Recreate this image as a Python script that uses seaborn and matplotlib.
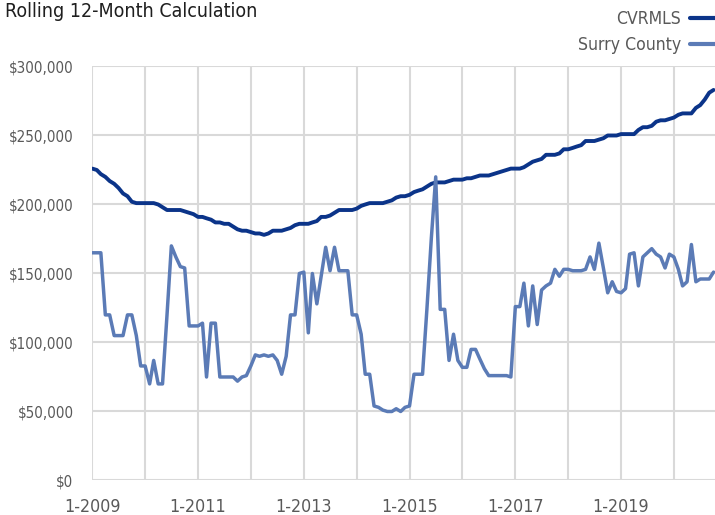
"""
Rolling 12-month median price: CVRMLS vs Surry County
"""

import pandas as pd
import seaborn as sns
import matplotlib.pyplot as plt
import matplotlib.dates as mdates
from matplotlib import font_manager
from matplotlib.lines import Line2D
from matplotlib.ticker import FuncFormatter

# monthly points, 1-2009 .. 10-2020 (values in $1,000)
months = pd.date_range("2009-01-01", periods=142, freq="MS")

cvrmls = [
    226, 225, 222, 220, 217, 215, 212, 208, 206, 202, 201, 201,
    201, 201, 201, 200, 198, 196, 196, 196, 196, 195, 194, 193,
    191, 191, 190, 189, 187, 187, 186, 186, 184, 182, 181, 181,
    180, 179, 179, 178, 179, 181, 181, 181, 182, 183, 185, 186,
    186, 186, 187, 188, 191, 191, 192, 194, 196, 196, 196, 196,
    197, 199, 200, 201, 201, 201, 201, 202, 203, 205, 206, 206,
    207, 209, 210, 211, 213, 215, 216, 216, 216, 217, 218, 218,
    218, 219, 219, 220, 221, 221, 221, 222, 223, 224, 225, 226,
    226, 226, 227, 229, 231, 232, 233, 236, 236, 236, 237, 240,
    240, 241, 242, 243, 246, 246, 246, 247, 248, 250, 250, 250,
    251, 251, 251, 251, 254, 256, 256, 257, 260, 261, 261, 262,
    263, 265, 266, 266, 266, 270, 272, 276, 281, 283,
]

surry = [
    165, 165, 165, 120, 120, 105, 105, 105, 120, 120, 105, 83,
    83, 70, 87, 70, 70, 120, 170, 162, 155, 154, 112, 112,
    112, 114, 75, 114, 114, 75, 75, 75, 75, 72, 75, 76,
    83, 91, 90, 91, 90, 91, 87, 77, 90, 120, 120, 150,
    151, 107, 150, 128, 148, 169, 152, 169, 152, 152, 152, 120,
    120, 106, 77, 77, 54, 53, 51, 50, 50, 52, 50, 53,
    54, 77, 77, 77, 124, 176, 220, 124, 124, 87, 106, 87,
    82, 82, 95, 95, 88, 81, 76, 76, 76, 76, 76, 75,
    126, 126, 143, 112, 141, 113, 138, 141, 143, 153, 148, 153,
    153, 152, 152, 152, 153, 162, 153, 172, 154, 136, 144, 137,
    136, 139, 164, 165, 141, 162, 165, 168, 164, 162, 154, 164,
    162, 153, 141, 144, 171, 144, 146, 146, 146, 151,
]

series_names = ["CVRMLS", "Surry County"]
colors = {"CVRMLS": "#0B3489", "Surry County": "#5B7BB6"}
widths = {"CVRMLS": 2.8, "Surry County": 2.5}


def pick_narrow_font():
    # the original uses a condensed sans; take one if the system has it
    for f in font_manager.fontManager.ttflist:
        fn = f.fname.lower()
        if ("narrow" in fn or "condensed" in fn) and not any(
            k in fn for k in ("bold", "oblique", "italic")
        ):
            return f
    return None


def plot_chart():
    df = pd.DataFrame({
        "Month": list(months) * 2,
        "Price": [v * 1000 for v in cvrmls + surry],
        "Series": ["CVRMLS"] * len(cvrmls) + ["Surry County"] * len(surry),
    })

    sns.set_style("white")
    narrow = pick_narrow_font()
    if narrow is not None:
        plt.rcParams["font.family"] = [narrow.name, "Liberation Sans", "DejaVu Sans"]
        plt.rcParams["font.stretch"] = narrow.stretch
        sz = {"title": 14, "ytick": 10.9, "xtick": 12.8, "legend": 12.6}
    else:
        plt.rcParams["font.family"] = ["Liberation Sans", "DejaVu Sans"]
        sz = {"title": 14, "ytick": 11, "xtick": 12, "legend": 13}

    fig = plt.figure(figsize=(7.15, 5.15), dpi=100)
    ax = fig.add_axes([0.1291, 0.067, 0.8709, 0.8039])

    grid_c = "#D9D9D9"
    for name in series_names:
        sns.lineplot(
            data=df[df["Series"] == name], x="Month", y="Price",
            color=colors[name], linewidth=widths[name], ax=ax, zorder=3,
        )

    ax.set_ylim(0, 300000)
    ax.set_xlim(months[0], months[0] + pd.Timedelta(days=int(141.3 * 30.44)))
    ax.set_yticks(range(0, 300001, 50000))
    ax.yaxis.set_major_formatter(FuncFormatter(lambda v, p: f"${v:,.0f}"))

    ax.xaxis.set_major_locator(mdates.YearLocator(1, month=1, day=1))
    ax.xaxis.set_major_formatter(
        FuncFormatter(lambda v, p: f"1-{mdates.num2date(v).year}" if mdates.num2date(v).year % 2 == 1 else "")
    )

    ax.grid(True, color=grid_c, linewidth=1.5)
    ax.set_axisbelow(True)
    for s in ax.spines.values():
        s.set_visible(False)
    ax.tick_params(axis="y", length=5, width=1.5, color=grid_c, labelsize=sz["ytick"], labelcolor="#595959", pad=8.5)
    ax.tick_params(axis="x", length=5, width=1.5, color=grid_c, labelsize=sz["xtick"], labelcolor="#595959", pad=7.5)
    ax.set_xlabel("")
    ax.set_ylabel("")

    fig.text(0.007, 0.997, "Rolling 12-Month Calculation", va="top", ha="left", fontsize=sz["title"], color="#1F1F1F")

    handles = [Line2D([], [], color=colors[n], linewidth=3) for n in series_names]
    fig.legend(
        handles, series_names, loc="upper right", bbox_to_anchor=(1.041, 1.011),
        markerfirst=False, frameon=False, fontsize=sz["legend"], labelcolor="#595959",
        handlelength=2.2, handletextpad=0.5, labelspacing=0.45,
    )

    fig.savefig("out.png", dpi=100)


if __name__ == "__main__":
    plot_chart()
